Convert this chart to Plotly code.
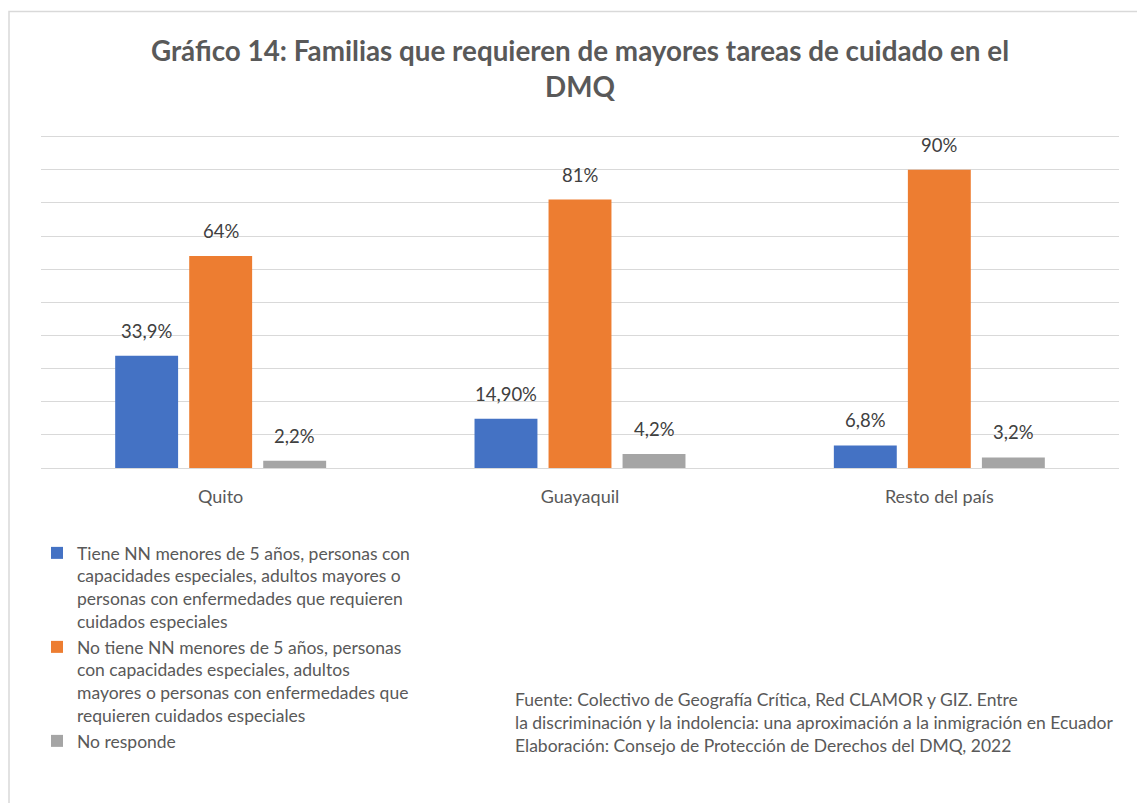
import plotly.graph_objects as go

categories = ["Quito", "Guayaquil", "Resto del país"]
series_names = [
    "Tiene NN menores de 5 años, personas con<br>capacidades especiales, adultos mayores o<br>personas con enfermedades que requieren<br>cuidados especiales",
    "No tiene NN menores de 5 años, personas<br>con capacidades especiales, adultos<br>mayores o personas con enfermedades que<br>requieren cuidados especiales",
    "No responde",
]
tiene = [33.9, 14.9, 6.8]
no_tiene = [64, 81, 90]
no_responde = [2.2, 4.2, 3.2]
tiene_labels = ["33,9%", "14,90%", "6,8%"]
no_tiene_labels = ["64%", "81%", "90%"]
no_responde_labels = ["2,2%", "4,2%", "3,2%"]
grid_vals = [10, 20, 30, 40, 50, 60, 70, 80, 90, 100]
colors = ["#4472C4", "#ED7D31", "#A5A5A5"]

W, H = 1145, 803
OFF = 8  # page body margin offset
# target screen positions of the plot frame
X_LEFT, X_RIGHT, Y_BASE, Y_100 = 41, 1119, 468, 137
Y_MAX = 102
unit = (Y_BASE - Y_100) / 100.0
ML = X_LEFT - OFF
MR = W - (X_RIGHT - OFF)
MB = H - (Y_BASE - OFF)
MT = (Y_BASE - OFF) - Y_MAX * unit
BARGAP = 0.382
BARGROUPGAP = 0.15
FONT = "Lato"
TXT = "#595959"

series_vals = [tiene, no_tiene, no_responde]
series_lbls = [tiene_labels, no_tiene_labels, no_responde_labels]

fig = go.Figure()
for name, vals, col in zip(series_names, series_vals, colors):
    fig.add_trace(go.Bar(x=categories, y=vals, name=name, marker=dict(color=col, line=dict(width=0))))

plot_w = W - ML - MR
plot_h = H - MT - MB
slot = plot_w / len(categories) * (1 - BARGAP) / len(series_vals)
annotations = []
for i, (vals, lbls) in enumerate(zip(series_vals, series_lbls)):
    for c, v, t in zip(categories, vals, lbls):
        annotations.append(dict(
            x=c, y=v, xref="x", yref="y", text=t, showarrow=False,
            yanchor="bottom", yshift=12, xshift=(i - 1) * slot,
            font=dict(family=FONT, size=18.5, color="#404040"),
        ))

annotations.append(dict(
    x=(505 - ML) / plot_w, y=((Y_BASE - OFF) - 679) / plot_h, xref="paper", yref="paper",
    xanchor="left", yanchor="top", align="left", showarrow=False,
    text="Fuente: Colectivo de Geografía Crítica, Red CLAMOR y GIZ. Entre<br>"
         "la discriminación y la indolencia: una aproximación a la inmigración en Ecuador<br>"
         "Elaboración: Consejo de Protección de Derechos del DMQ, 2022",
    font=dict(family=FONT, size=17.5, color=TXT),
))

fig.update_layout(
    width=W, height=H,
    margin=dict(l=ML, r=MR, t=MT, b=MB, autoexpand=False),
    paper_bgcolor="white", plot_bgcolor="white",
    barmode="group", bargap=BARGAP, bargroupgap=BARGROUPGAP,
    title=dict(
        text="<b>Gráfico 14: Familias que requieren de mayores tareas de cuidado en el<br>DMQ</b>",
        x=0.5, xref="paper", xanchor="center", y=1 - 53 / H, yanchor="middle",
        font=dict(family=FONT, size=27.8, color=TXT),
    ),
    font=dict(family=FONT, color=TXT),
    xaxis=dict(
        showline=True, linecolor="#D9D9D9", linewidth=1.3,
        tickfont=dict(family=FONT, size=18, color=TXT),
        ticks="", ticklabelstandoff=12,
    ),
    yaxis=dict(
        range=[0, Y_MAX], tickvals=grid_vals,
        showticklabels=False,
        showgrid=True, gridcolor="#D9D9D9", gridwidth=1.3,
        zeroline=False, fixedrange=True,
    ),
    legend=dict(
        xref="container", yref="container",
        x=29 / W, y=1 - 527 / H,
        xanchor="left", yanchor="top", valign="top",
        font=dict(family=FONT, size=17.5, color=TXT),
        bgcolor="rgba(0,0,0,0)", tracegroupgap=0, itemwidth=30,
    ),
    annotations=annotations,
    shapes=[dict(
        type="rect", xref="paper", yref="paper",
        x0=(1 - ML) / plot_w, x1=1.2, y0=-2, y1=((Y_BASE - OFF) - 4) / plot_h,
        line=dict(color="#D9D9D9", width=1.5), layer="below",
    )],
)

fig.write_html("out.html")
